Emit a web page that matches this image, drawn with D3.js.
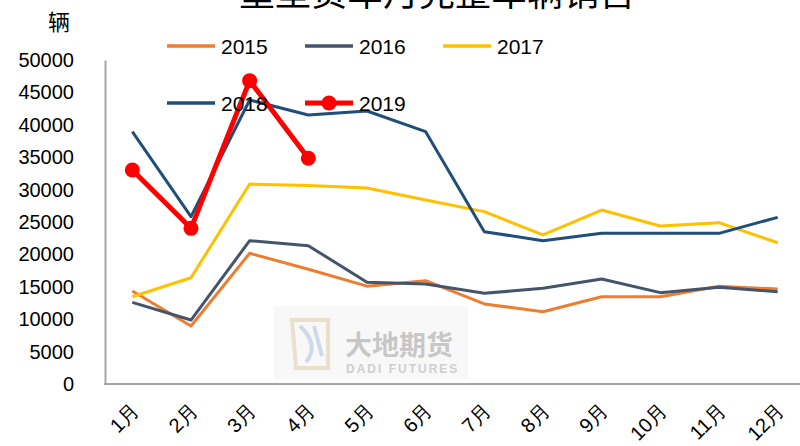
<!DOCTYPE html>
<html>
<head>
<meta charset="utf-8">
<script src="https://cdn.jsdelivr.net/npm/d3@7"></script>
<style>
  body { margin: 0; background: #fff; }
  svg { display: block; }
  text { font-family: "Liberation Sans", Arial, sans-serif; fill: #000; }
</style>
</head>
<body>
<svg width="800" height="446"></svg>
<script>
"use strict";
var svg = d3.select("svg");

//data
const months = ["1月","2月","3月","4月","5月","6月","7月","8月","9月","10月","11月","12月"];
const yTicks = [0,5000,10000,15000,20000,25000,30000,35000,40000,45000,50000];
const s2015 = [14350, 8950, 20170, 17700, 15100, 15950, 12350, 11150, 13470, 13470, 15100, 14650];
const s2016 = [12600, 9870, 22120, 21350, 15700, 15430, 14000, 14760, 16200, 14100, 14920, 14250];
const s2017 = [13470, 16400, 30860, 30630, 30250, 28400, 26600, 23000, 26850, 24380, 24900, 21800];
const s2018 = [38940, 25820, 43830, 41510, 42130, 38940, 23500, 22120, 23250, 23250, 23250, 25720];
const s2019 = [33030, 24020, 46810, 34830];

const series = [
  {name: "2015", values: s2015, color: "#ED7D31", width: 3},
  {name: "2016", values: s2016, color: "#44546A", width: 3},
  {name: "2017", values: s2017, color: "#FFC000", width: 3},
  {name: "2018", values: s2018, color: "#1F4E79", width: 3},
  {name: "2019", values: s2019, color: "#FF0000", width: 5, marker: true}
];

//scales
var x = d3.scalePoint().domain(months).range([103, 807]).padding(0.5);
var y = d3.scaleLinear().domain([0, 50000]).range([384, 60]);

//title (mostly off the top of the picture, as in the original)
svg.append("text")
  .attr("x", 437).attr("y", 6)
  .attr("text-anchor", "middle")
  .style("font-family", "'Noto Sans CJK SC', sans-serif")
  .style("font-size", "36px")
  .text("重型货车月完整车辆销售");

//watermark
var wm = svg.append("g").attr("opacity", 0.55);
wm.append("rect").attr("x", 274).attr("y", 306).attr("width", 194).attr("height", 74).attr("fill", "#f3f3f3");
wm.append("path").attr("d", "M292,320 L328,320 L328,368 L296,368 Z").attr("fill", "none").attr("stroke", "#d9c9a3").attr("stroke-width", 4);
wm.append("path").attr("d", "M300,326 Q320,345 306,362 M314,326 L322,356").attr("fill", "none").attr("stroke", "#a8bcd6").attr("stroke-width", 4);
wm.append("text").attr("x", 345).attr("y", 355)
  .style("font-family", "'Noto Sans CJK SC', sans-serif").style("font-size", "27px").style("font-weight", "bold")
  .style("fill", "#9a9a9a").text("大地期货");
wm.append("text").attr("x", 346).attr("y", 373)
  .style("font-size", "12px").style("font-weight", "bold").style("letter-spacing", "2px")
  .style("fill", "#a8a8a8").text("DADI FUTURES");

//axes
var yAxis = svg.append("g").attr("transform", "translate(105,0)")
  .call(d3.axisLeft(y).tickValues(yTicks).tickSize(0).tickPadding(31).tickFormat(d3.format("d")));
yAxis.select(".domain").attr("stroke", "#a6a6a6").attr("stroke-width", 2);
yAxis.selectAll("text").style("font-size", "20px").style("font-family", "'Liberation Sans', sans-serif");

svg.append("line").attr("x1", 104).attr("x2", 800).attr("y1", 384).attr("y2", 384)
  .attr("stroke", "#a6a6a6").attr("stroke-width", 2);

svg.append("g").selectAll("text").data(months).join("text")
  .attr("transform", d => "translate(" + (x(d) + 3) + ",407) rotate(-45)")
  .attr("text-anchor", "end")
  .attr("dy", "0.35em")
  .style("font-size", "20px")
  .text(d => d);

//unit
svg.append("text").attr("x", 48).attr("y", 30)
  .style("font-family", "'Noto Sans CJK SC', sans-serif").style("font-size", "22px")
  .text("辆");

//lines
var line = d3.line().x((d, i) => x(months[i])).y(d => y(d));

svg.append("g").selectAll("path").data(series).join("path")
  .attr("d", d => line(d.values))
  .attr("fill", "none")
  .attr("stroke", d => d.color)
  .attr("stroke-width", d => d.width)
  .attr("stroke-linejoin", "round");

svg.append("g").selectAll("circle").data(s2019).join("circle")
  .attr("cx", (d, i) => x(months[i]))
  .attr("cy", d => y(d))
  .attr("r", 7.5)
  .attr("fill", "#FF0000");

//legend
var legendPos = [[167, 46], [305, 46], [443, 46], [167, 103], [305, 103]];
var legend = svg.append("g").selectAll("g").data(series).join("g")
  .attr("transform", (d, i) => "translate(" + legendPos[i][0] + "," + legendPos[i][1] + ")");
legend.append("line").attr("x1", 0).attr("x2", 48)
  .attr("stroke", d => d.color).attr("stroke-width", d => d.width === 5 ? 5 : 3.5);
legend.filter(d => d.marker).append("circle").attr("cx", 24).attr("r", 7.5).attr("fill", "#FF0000");
legend.append("text").attr("x", 54).attr("dy", "0.36em")
  .style("font-size", "21px")
  .text(d => d.name);
</script>
</body>
</html>
